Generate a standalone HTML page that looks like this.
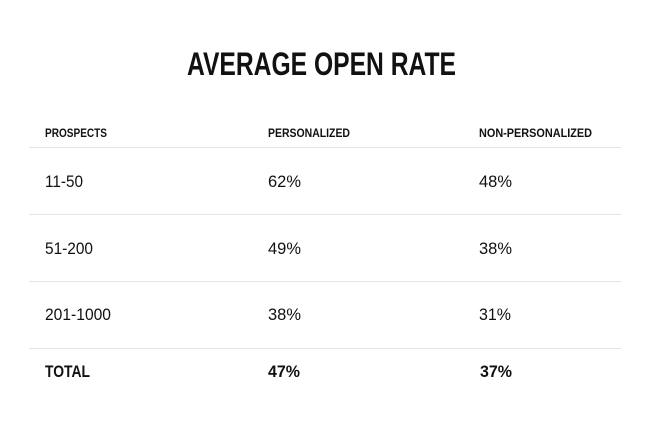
<!DOCTYPE html>
<html>
<head>
<meta charset="utf-8">
<style>
  html, body { margin: 0; padding: 0; background: #ffffff; }
  svg { display: block; }
  text { font-family: "Liberation Sans", Arial, sans-serif; fill: #111111; }
  .b { font-weight: bold; }
</style>
</head>
<body>
<svg width="650" height="430" viewBox="0 0 650 430" xmlns="http://www.w3.org/2000/svg">
  <rect x="0" y="0" width="650" height="430" fill="#ffffff"/>
  <text class="b" x="187" y="75" font-size="32" textLength="269" lengthAdjust="spacingAndGlyphs">AVERAGE OPEN RATE</text>

  <text class="b" x="45" y="137" font-size="12" textLength="62" lengthAdjust="spacingAndGlyphs">PROSPECTS</text>
  <text class="b" x="268" y="137" font-size="12" textLength="82" lengthAdjust="spacingAndGlyphs">PERSONALIZED</text>
  <text class="b" x="479" y="137" font-size="12" textLength="113" lengthAdjust="spacingAndGlyphs">NON-PERSONALIZED</text>

  <g stroke="#e6e6e6" stroke-width="1">
    <line x1="29" y1="147.5" x2="621" y2="147.5"/>
    <line x1="29" y1="214.5" x2="621" y2="214.5"/>
    <line x1="29" y1="281.5" x2="621" y2="281.5"/>
    <line x1="29" y1="348.5" x2="621" y2="348.5"/>
  </g>

  <text x="45" y="187" font-size="16.5" textLength="38" lengthAdjust="spacingAndGlyphs">11-50</text>
  <text x="268" y="187" font-size="16.5" textLength="33" lengthAdjust="spacingAndGlyphs">62%</text>
  <text x="479" y="187" font-size="16.5" textLength="33" lengthAdjust="spacingAndGlyphs">48%</text>

  <text x="45" y="254" font-size="16.5" textLength="48" lengthAdjust="spacingAndGlyphs">51-200</text>
  <text x="268" y="254" font-size="16.5" textLength="33" lengthAdjust="spacingAndGlyphs">49%</text>
  <text x="479" y="254" font-size="16.5" textLength="33" lengthAdjust="spacingAndGlyphs">38%</text>

  <text x="45" y="320" font-size="16.5" textLength="66" lengthAdjust="spacingAndGlyphs">201-1000</text>
  <text x="268" y="320" font-size="16.5" textLength="33" lengthAdjust="spacingAndGlyphs">38%</text>
  <text x="479" y="320" font-size="16.5" textLength="32" lengthAdjust="spacingAndGlyphs">31%</text>

  <text class="b" x="45" y="377" font-size="16.5" textLength="45" lengthAdjust="spacingAndGlyphs">TOTAL</text>
  <text class="b" x="268" y="377" font-size="16.5" textLength="32" lengthAdjust="spacingAndGlyphs">47%</text>
  <text class="b" x="480" y="377" font-size="16.5" textLength="32" lengthAdjust="spacingAndGlyphs">37%</text>
</svg>
</body>
</html>
